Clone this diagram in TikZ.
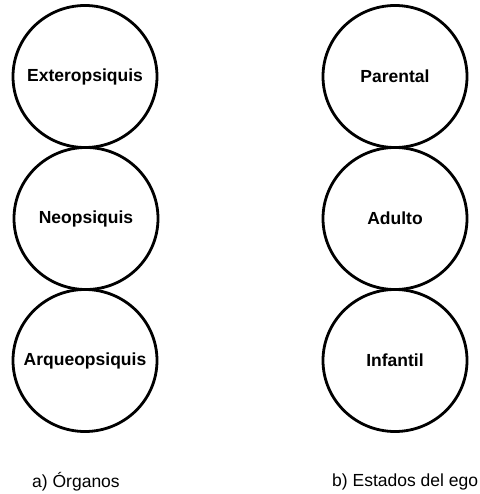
\documentclass[tikz,border=0pt]{standalone}
\usepackage{fontspec}
\setmainfont{Liberation Sans}
\usetikzlibrary{shapes.geometric}
\begin{document}
\begin{tikzpicture}[x=1pt,y=-1pt,
  organ/.style={draw=black,line width=2.8pt,ellipse,minimum width=144pt,minimum height=142pt,inner sep=0pt,
    label={[font=\fontsize{17.5}{20}\selectfont\bfseries,inner sep=0pt]center:#1}},
  caption/.style={anchor=west,inner sep=0pt,font=\fontsize{17.5}{20}\selectfont}]
\useasboundingbox[fill=white] (0,0) rectangle (479,494);
\node[organ=Exteropsiquis] (ext) at (85,76.5) {};
\node[organ=Neopsiquis] (neo) at (86,218.5) {};
\node[organ=Arqueopsiquis] (arq) at (85,360.5) {};
\node[organ=Parental] (par) at (395,76.5) {};
\node[organ=Adulto] (adu) at (395,218.5) {};
\node[organ=Infantil] (inf) at (395,360.5) {};
\node[caption] (capa) at (32,482) {a) Órganos};
\node[caption] (capb) at (332,482) {b) Estados del ego};
\end{tikzpicture}
\end{document}
